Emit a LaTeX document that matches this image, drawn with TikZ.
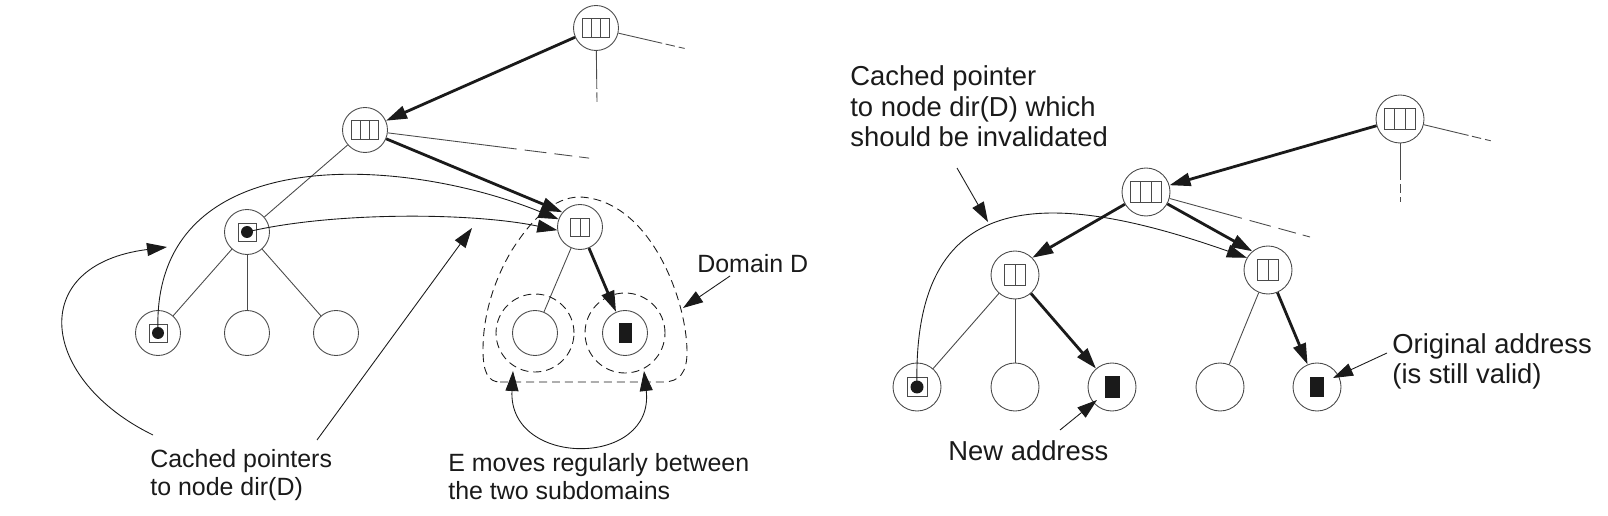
\documentclass[tikz,border=0pt]{standalone}
\usepackage{fontspec}
\setmainfont{Liberation Sans}
\usetikzlibrary{
    arrows.meta,
    calc
}
\definecolor{ink}{HTML}{1A1A1A}
\definecolor{wire}{HTML}{4A4A4A}
\tikzset{
    % Tree node style
    tnode/.style={
        circle,
        draw=wire,
        line width=0.5pt,
        minimum size=#1,
        inner sep=0pt
    },
    tnode/.default=0.9cm,
    % Thin line inside a node
    cell/.style={draw=wire, line width=0.5pt},
    % Directory entries (half width, half height)
    dirthree/.style 2 args={
        path picture={
            \draw[cell] ([shift={(-#1,-#2)}]path picture bounding box.center) rectangle ([shift={(#1,#2)}]path picture bounding box.center);
            \foreach \k in {-1,1}
                \draw[cell] ([shift={(\k*#1/3,-#2)}]path picture bounding box.center) -- ([shift={(\k*#1/3,#2)}]path picture bounding box.center);
        }
    },
    dirtwo/.style 2 args={
        path picture={
            \draw[cell] ([shift={(-#1,-#2)}]path picture bounding box.center) rectangle ([shift={(#1,#2)}]path picture bounding box.center);
            \draw[cell] ([shift={(0,-#2)}]path picture bounding box.center) -- ([shift={(0,#2)}]path picture bounding box.center);
        }
    },
    % Cached pointer (box with a dot)
    pointer/.style n args={3}{
        path picture={
            \draw[cell] ([shift={(-#1,-#2)}]path picture bounding box.center) rectangle ([shift={(#1,#2)}]path picture bounding box.center);
            \fill[ink] (path picture bounding box.center) circle (#3);
        }
    },
    % Object E
    block/.style 2 args={
        path picture={
            \fill[ink] ([shift={(-#1,-#2)}]path picture bounding box.center) rectangle ([shift={(#1,#2)}]path picture bounding box.center);
        }
    },
    % Line styles
    link/.style={draw=wire, line width=0.5pt},
    trail/.style={link, dash pattern=on #1 off 0.07cm on 0.19cm off 0.08cm on 0.12cm off 3cm},
    longtrail/.style={link, dash pattern=on #1 off 0.16cm on 0.44cm off 0.16cm on 0.36cm off 0.14cm on 0.2cm off 3cm},
    flow/.style={
        -{Triangle[length=0.42cm, width=0.26cm]},
        line width=1.6pt,
        draw=ink
    },
    cache/.style={
        -{Triangle[length=0.4cm, width=0.26cm]},
        line width=0.5pt,
        draw=ink
    },
    swap/.style={
        {Triangle[length=0.4cm, width=0.26cm]}-{Triangle[length=0.4cm, width=0.26cm]},
        line width=0.5pt,
        draw=ink
    },
    subdom/.style={draw=ink, line width=0.5pt, dash pattern=on 0.16cm off 0.1cm},
    % Label styles (placed at the baseline of the last line)
    note left/.style={font=\fontsize{14.2}{15.8}\selectfont, text=ink, anchor=base west, align=left, inner sep=0pt},
    note right/.style={font=\fontsize{15.6}{17.6}\selectfont, text=ink, anchor=base west, align=left, inner sep=0pt}
}

\begin{document}
\begin{tikzpicture}[x=0.02cm, y=-0.02cm]
    \useasboundingbox (0,0) rectangle (1608,516);

    % Left tree
    \node[tnode, dirthree={13.5}{9.5}] (r1) at (596,28) {};
    \node[tnode, dirthree={13.5}{9.5}] (r2) at (365,130) {};
    \node[tnode, pointer={9}{9}{0.12cm}] (a) at (247,232) {};
    \node[tnode, dirtwo={9.5}{9}] (d) at (580,227) {};
    \node[tnode, pointer={9}{9}{0.12cm}] (b1) at (158,333) {};
    \foreach \n/\x in {b2/247, b3/336}
        \node[tnode] (\n) at (\x,333) {};
    \node[tnode] (c1) at (535,333) {};
    \node[tnode, block={6.5}{10}] (c2) at (625,333) {};

    \coordinate (r1e) at (687,49);
    \coordinate (r1d) at (597,103);
    \coordinate (r2e) at (604,160);

    \draw[trail=0.9cm] (r1) -- (r1e);
    \draw[trail=0.76cm] (r1) -- (r1d);
    \draw[longtrail=2.6cm] (r2) -- (r2e);
    \draw[link] (r2) -- (a);
    \foreach \n in {b1,b2,b3}
        \draw[link] (a) -- (\n);
    \draw[link] (d) -- (c1);

    \draw[flow] (r1) -- (r2);
    \draw[flow] (r2) -- (d.140);
    \draw[flow] (d) -- (c2);

    % Domain D and its two subdomains
    \draw[subdom] (c1) circle (0.78cm);
    \draw[subdom] (c2) circle (0.8cm);
    \draw[subdom] (500,382) -- (663,382)
        .. controls (680,382) and (687,372) .. (687,352)
        .. controls (687,300) and (650,200) .. (580,197)
        .. controls (552,197) and (530,222) .. (512,250)
        .. controls (494,280) and (483,315) .. (483,350)
        .. controls (483,372) and (488,382) .. (500,382) -- cycle;

    % Cached pointers
    \draw[cache] (b1.center) .. controls (150,140) and (400,155) .. (d.160);
    \draw[cache] (a.center) .. controls (330,212) and (470,212) .. (d.188);

    \coordinate (mvl) at (513,371);
    \coordinate (mvr) at (644,371);
    \draw[swap] (mvl) .. controls (508,468) and (655,468) .. (mvr);

    % Left labels
    \node[note left] (lblcache) at (150,495) {Cached pointers\\to node dir(D)};
    \node[note left] (lblmove) at (448,499) {E moves regularly between\\the two subdomains};
    \node[note left] (lbldomain) at (697,273) {Domain D};

    \coordinate (cp1) at (153,435);
    \coordinate (cpt1) at (167,247);
    \coordinate (cp2) at (317,440);
    \coordinate (cpt2) at (472,228);
    \coordinate (dom1) at (730,276);
    \coordinate (domt) at (683,308);
    \draw[cache] (cp1) .. controls (40,380) and (25,265) .. (cpt1);
    \draw[cache] (cp2) -- (cpt2);
    \draw[cache] (dom1) -- (domt);

    % Right tree
    \node[tnode=0.96cm, dirthree={15.5}{10.5}] (s1) at (1400,119) {};
    \node[tnode=0.96cm, dirthree={15.5}{10.5}] (s2) at (1146,192) {};
    \node[tnode=0.96cm, dirtwo={10.5}{10.5}] (sl) at (1015,275) {};
    \node[tnode=0.96cm, dirtwo={10.5}{10.5}] (sr) at (1268,270) {};
    \node[tnode=0.96cm, pointer={10}{9.5}{0.13cm}] (k1) at (917,387) {};
    \node[tnode=0.96cm] (k2) at (1015,387) {};
    \node[tnode=0.96cm, block={7.5}{11}] (k3) at (1112,387) {};
    \node[tnode=0.96cm] (k4) at (1220,387) {};
    \node[tnode=0.96cm, block={7}{10}] (k5) at (1317,387) {};

    \coordinate (s1e) at (1500,143);
    \coordinate (s1d) at (1400,202);
    \coordinate (s2e) at (1310,237);

    \draw[trail=0.92cm] (s1) -- (s1e);
    \draw[trail=0.74cm] (s1) -- (s1d);
    \draw[longtrail=1.5cm] (s2) -- (s2e);
    \draw[link] (sl) -- (k1);
    \draw[link] (sl) -- (k2);
    \draw[link] (sr) -- (k4);

    \draw[flow] (s1) -- (s2);
    \draw[flow] (s2) -- (sl.45);
    \draw[flow] (s2) -- (sr.130);
    \draw[flow] (sl) -- (k3);
    \draw[flow] (sr) -- (k5);

    \draw[cache] (k1.center) .. controls (912,190) and (1040,185) .. (sr.150);

    % Right labels
    \node[note right] (lblinval) at (850,147) {Cached pointer\\to node dir(D) which\\should be invalidated};
    \node[note right] (lblnew) at (948,460) {New address};
    \node[note right] (lblorig) at (1392,384) {Original address\\(is still valid)};

    \coordinate (iv1) at (957,168);
    \coordinate (ivt) at (988,222);
    \coordinate (nw1) at (1060,430);
    \coordinate (nwt) at (1097,400);
    \coordinate (or1) at (1387,353);
    \coordinate (ort) at (1333,378);
    \draw[cache] (iv1) -- (ivt);
    \draw[cache] (nw1) -- (nwt);
    \draw[cache] (or1) -- (ort);
\end{tikzpicture}
\end{document}
